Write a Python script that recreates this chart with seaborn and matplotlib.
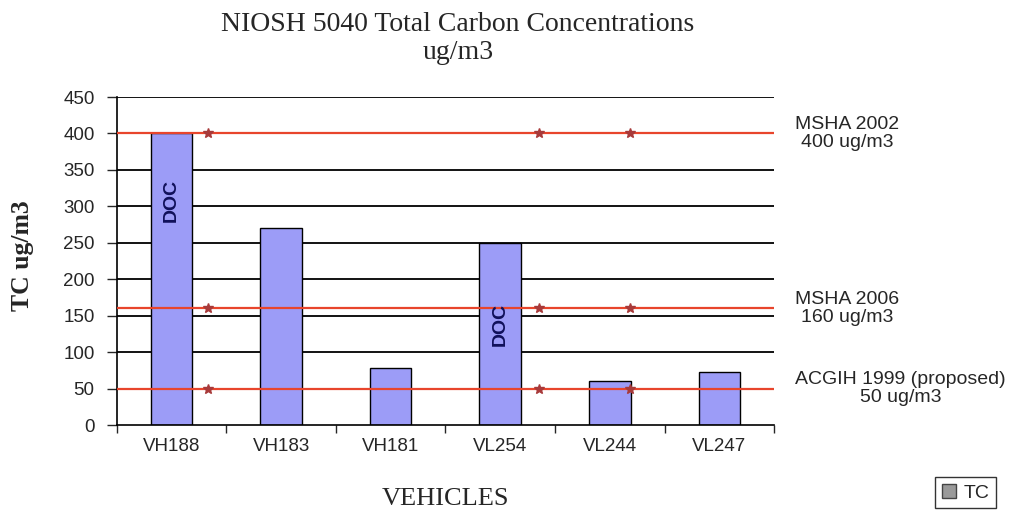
import pandas as pd
import numpy as np
import seaborn as sns
import matplotlib.pyplot as plt
from matplotlib.patches import Patch

vehicles = ['VH188', 'VH183', 'VH181', 'VL254', 'VL244', 'VL247']
tc = [400, 270, 78, 250, 60, 73]

limits = [400, 160, 50]
limit_labels = ['MSHA 2002\n400 ug/m3', 'MSHA 2006\n160 ug/m3', 'ACGIH 1999 (proposed)\n50 ug/m3']
# where the little star markers sit along each limit line (category units)
marker_x = [0.33, 3.35, 4.18]

doc_bars = ['VH188', 'VL254']
doc_y = [308, 138]

df = pd.DataFrame({'Vehicle': vehicles, 'TC': tc})

sns.set_style('white')
plt.rcParams['font.family'] = ['Liberation Sans', 'DejaVu Sans']

fig = plt.figure(figsize=(10.24, 5.16), dpi=100)
ax = fig.add_axes([0.114, 0.176, 0.642, 0.636])

for y in range(50, 451, 50):
    ax.axhline(y, color='black', lw=1.3, zorder=0)

sns.barplot(data=df, x='Vehicle', y='TC', color='#9c9cf7', edgecolor='black',
            linewidth=1.0, width=0.38, saturation=1, ax=ax, zorder=2)

for lim in limits:
    ax.axhline(lim, color='#e8452c', lw=1.6, zorder=3)
    ax.plot(marker_x, [lim] * len(marker_x), ls='none', marker='*',
            color='#a83a3a', ms=7, zorder=4)

for name, y in zip(doc_bars, doc_y):
    ax.text(vehicles.index(name), y, 'DOC', rotation=90, ha='center', va='center',
            fontsize=14, fontweight='bold', color='#10105a', zorder=5)

ax.set_xlim(-0.5, len(vehicles) - 0.5)
ax.set_ylim(0, 450)
ax.set_yticks(range(0, 451, 50))
ax.tick_params(axis='y', labelsize=13.5, length=7, width=1, direction='out', left=True, pad=9)
ax.tick_params(axis='x', which='major', labelsize=13.5, length=0, pad=9)
ax.set_xticks(np.arange(-0.5, len(vehicles), 1), minor=True)
ax.tick_params(axis='x', which='minor', length=6, width=1, direction='out', bottom=True)
for s in ['top', 'right']:
    ax.spines[s].set_visible(False)
for s in ['left', 'bottom']:
    ax.spines[s].set_color('black')
    ax.spines[s].set_linewidth(1.2)

ax.set_xlabel('')
ax.set_ylabel('')

for lim, lab in zip(limits, limit_labels):
    ax.annotate(lab, xy=(1.0, lim), xycoords=('axes fraction', 'data'),
                xytext=(15, 0), textcoords='offset points', ha='left', va='center',
                multialignment='center', fontsize=14, linespacing=1.1,
                annotation_clip=False)

fig.text(0.447, 0.926, 'NIOSH 5040 Total Carbon Concentrations\nug/m3', ha='center', va='center',
         fontsize=20, family='Liberation Serif', linespacing=1.15)
fig.text(0.022, 0.505, 'TC ug/m3', rotation=90, ha='center', va='center',
         fontsize=18.5, family='Liberation Serif', fontweight='bold')
fig.text(0.435, 0.032, 'VEHICLES', ha='center', va='center',
         fontsize=19, family='Liberation Serif')

fig.legend(handles=[Patch(facecolor='#9a9a9a', edgecolor='#444444', label='TC')],
           loc='center', bbox_to_anchor=(0.943, 0.045), fontsize=14, frameon=True,
           fancybox=False, edgecolor='black', handlelength=0.7, handleheight=0.7,
           handletextpad=0.4, borderpad=0.35)

fig.savefig('out.png', dpi=100)
